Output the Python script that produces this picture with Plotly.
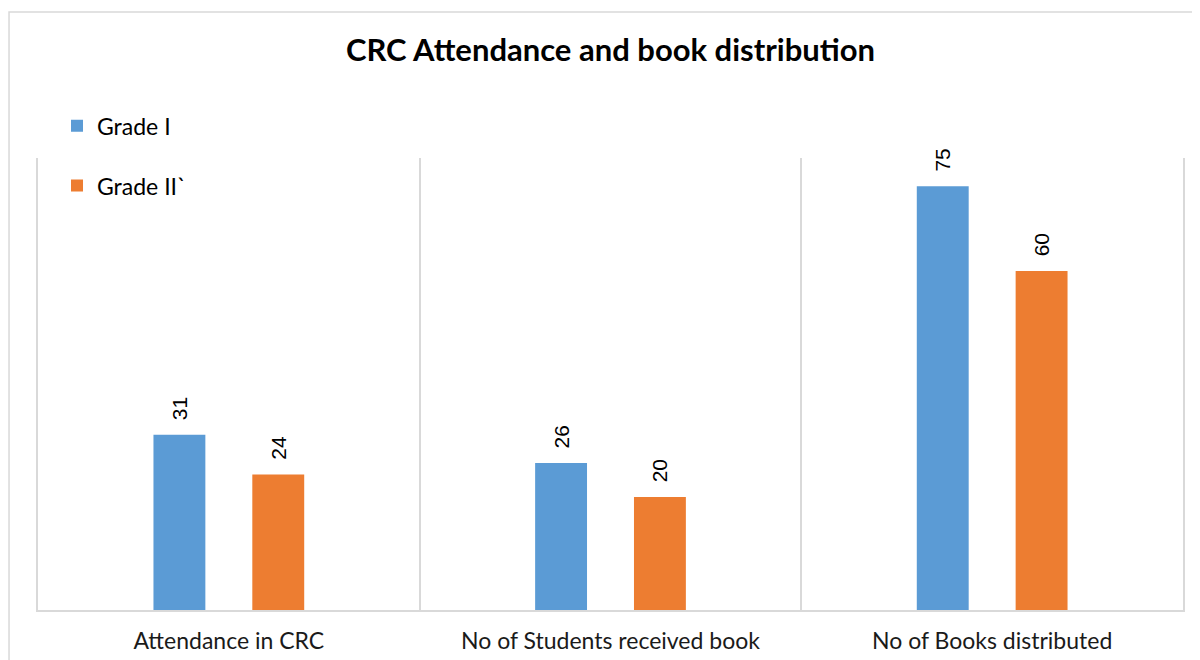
import plotly.graph_objects as go

categories = ["Attendance in CRC", "No of Students received book", "No of Books distributed"]
grade1 = [31, 26, 75]
grade2 = [24, 20, 60]
series_names = ["Grade I", "Grade II`"]
colors = ["#5B9BD5", "#ED7D31"]

FONT = "Lato"
PAD = "\u00a0\u00a0"

fig = go.Figure()
for name, vals, col in zip(series_names, [grade1, grade2], colors):
    fig.add_trace(go.Bar(
        x=categories, y=vals, name=name, legendgroup=name,
        marker=dict(color=col, line=dict(width=0)),
        text=[PAD + str(v) for v in vals], textposition="outside", textangle=-90,
        textfont=dict(family="Liberation Sans", size=21, color="#000000"),
        cliponaxis=False,
    ))

fig.update_layout(
    width=1200, height=660,
    margin=dict(l=30, r=25, t=150, b=58),
    paper_bgcolor="white", plot_bgcolor="white",
    barmode="group", bargap=0.482, bargroupgap=0.475,
    title=dict(text="<b>CRC Attendance and book distribution</b>", x=0.5, xref="paper",
               y=0.936, yref="container", yanchor="middle",
               font=dict(family=FONT, size=31, color="#000000")),
    legend=dict(x=0.0166, y=1.119, xanchor="left", yanchor="top", orientation="v",
                tracegroupgap=27, font=dict(family=FONT, size=23, color="#000000"),
                bgcolor="rgba(0,0,0,0)"),
    showlegend=True,
    uniformtext=dict(mode=False),
)
fig.update_xaxes(type="category", tickson="boundaries", showgrid=True, gridcolor="#D9D9D9",
                 gridwidth=1.5, showline=True, linecolor="#D9D9D9", linewidth=1.5,
                 ticks="", ticklabelstandoff=10,
                 tickfont=dict(family=FONT, size=23, color="#1a1a1a"), range=[-0.5, 2.5])
fig.update_yaxes(range=[0, 80], showgrid=False, showticklabels=False, zeroline=False,
                 showline=True, mirror=True, linecolor="#D9D9D9", linewidth=1.5, ticks="")

# outer chart border
fig.add_shape(type="rect", xref="paper", yref="paper",
              x0=-0.0253, x1=1.05, y0=-0.2, y1=1.323,
              line=dict(color="#D9D9D9", width=1.5), fillcolor="rgba(0,0,0,0)", layer="below")

fig.write_html("out.html")
